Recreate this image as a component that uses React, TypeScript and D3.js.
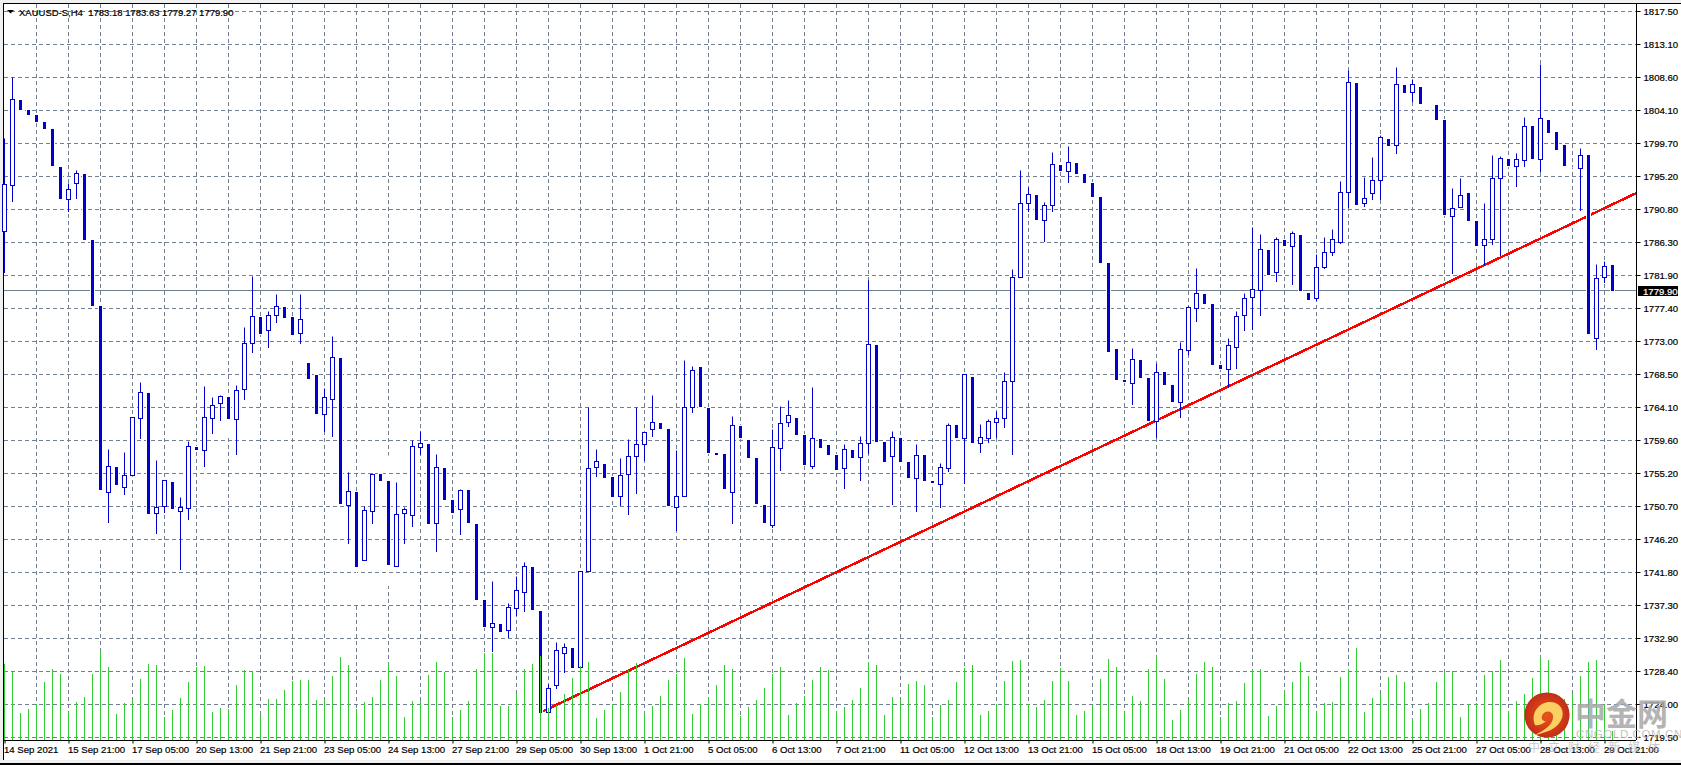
import { useEffect, useRef } from "react";
import { select, scaleLinear, axisBottom, axisRight, line } from "d3";

const WIDTH = 1681;
const HEIGHT = 765;

// XAUUSD H4 candles
const opens = [
  1787.85,1794.06,1805.53,1804.18,1803.51,1802.56,1801.62,1796.49,1792.17,1794.33,
  1795.54,1786.63,1777.72,1752.61,1755.99,1753.28,1754.90,1762.60,1765.98,1749.78,
  1750.72,1753.96,1750.05,1750.45,1758.69,1758.28,1762.60,1764.63,1765.44,1762.47,
  1766.52,1772.73,1776.24,1774.48,1776.51,1777.59,1776.24,1774.08,1770.03,1768.41,
  1763.14,1765.17,1770.70,1750.86,1752.61,1743.43,1750.05,1755.04,1754.10,1742.62,
  1749.78,1749.51,1758.69,1759.09,1748.43,1755.85,1751.53,1750.32,1752.88,1748.29,
  1738.03,1734.39,1734.79,1733.98,1736.95,1739.11,1742.49,1736.55,1722.91,1726.56,
  1730.88,1731.55,1728.99,1741.95,1755.99,1756.39,1754.63,1752.07,1755.04,1757.47,
  1759.09,1761.12,1761.93,1761.12,1750.59,1752.07,1764.09,1769.49,1763.95,1757.88,
  1757.74,1752.61,1761.52,1759.63,1757.20,1750.86,1748.16,1758.55,1762.06,1762.60,
  1760.31,1756.12,1759.77,1758.96,1757.61,1755.85,1758.28,1757.34,1759.23,1772.46,
  1759.36,1757.47,1759.90,1756.66,1754.50,1757.61,1754.10,1753.69,1755.85,1761.66,
  1759.90,1768.14,1759.23,1759.90,1762.06,1762.60,1767.60,1781.64,1791.63,1792.71,
  1789.33,1791.36,1796.76,1795.95,1797.03,1795.54,1794.33,1792.44,1783.53,1771.92,
  1767.73,1767.33,1770.43,1768.00,1762.20,1768.81,1767.06,1764.76,1771.78,1777.45,
  1779.34,1777.99,1769.76,1769.22,1772.19,1776.51,1778.94,1779.88,1785.28,1782.31,
  1786.63,1785.82,1787.31,1779.48,1778.80,1782.99,1785.01,1786.36,1793.11,1807.83,
  1791.63,1792.98,1794.73,1800.27,1799.46,1807.56,1806.61,1807.29,1804.99,1804.86,
  1802.83,1789.87,1791.09,1792.98,1789.20,1785.96,1786.77,1795.00,1797.57,1796.62,
  1797.43,1802.02,1797.57,1802.83,1801.21,1799.46,1796.49,1796.35,1798.11,1773.40,
  1781.64,1783.18,
];
const closes = [
  1794.19,1805.67,1804.32,1803.64,1802.70,1801.75,1796.76,1792.30,1793.52,1795.67,
  1786.77,1777.86,1753.02,1756.12,1753.69,1754.90,1762.74,1766.11,1749.78,1750.59,
  1754.23,1750.45,1750.59,1758.82,1758.42,1762.74,1764.36,1765.57,1762.60,1766.38,
  1772.73,1776.37,1774.08,1776.51,1777.72,1776.24,1773.94,1775.97,1768.00,1763.28,
  1765.44,1770.84,1751.13,1752.75,1742.62,1750.18,1755.04,1754.23,1742.89,1749.64,
  1750.32,1758.82,1759.23,1748.43,1755.99,1751.67,1749.91,1752.88,1748.56,1738.17,
  1734.52,1734.93,1733.85,1737.09,1739.38,1742.62,1736.82,1722.91,1726.15,1731.28,
  1731.69,1728.99,1741.95,1755.85,1756.80,1754.63,1752.07,1754.90,1757.47,1759.09,
  1760.71,1762.06,1761.25,1750.86,1752.07,1764.09,1769.08,1764.22,1758.01,1757.74,
  1753.15,1761.66,1760.04,1757.34,1751.13,1748.56,1758.69,1761.93,1763.01,1760.44,
  1756.39,1759.90,1758.69,1757.74,1755.72,1758.42,1757.34,1759.23,1772.59,1759.50,
  1756.80,1760.04,1756.80,1754.63,1757.61,1754.23,1753.96,1755.99,1761.66,1760.04,
  1768.54,1759.36,1760.04,1762.20,1762.60,1767.60,1781.64,1791.63,1792.84,1789.47,
  1791.36,1796.89,1796.08,1797.16,1795.68,1794.46,1792.57,1783.66,1771.65,1767.87,
  1767.60,1770.57,1768.14,1762.33,1768.81,1767.19,1764.90,1771.92,1777.59,1779.48,
  1778.13,1769.89,1769.35,1772.46,1776.37,1778.80,1780.02,1785.42,1782.04,1786.77,
  1785.96,1787.58,1779.88,1778.67,1782.99,1785.01,1786.77,1793.11,1807.96,1791.49,
  1792.30,1794.73,1800.54,1799.46,1807.69,1806.61,1807.69,1805.13,1804.99,1802.97,
  1790.14,1790.95,1792.71,1789.33,1785.96,1786.77,1795.00,1797.70,1796.76,1797.57,
  1802.02,1797.70,1803.10,1801.21,1798.92,1796.76,1796.49,1798.11,1774.08,1781.50,
  1783.12,1779.90,
];
const highs = [
  1800.40,1808.64,1805.53,1804.18,1803.51,1802.56,1801.62,1796.49,1794.33,1796.08,
  1795.54,1786.63,1777.72,1758.42,1755.99,1758.01,1762.74,1767.46,1765.98,1756.93,
  1754.23,1753.96,1751.94,1759.50,1758.69,1766.92,1765.44,1765.71,1765.44,1767.06,
  1774.89,1781.77,1776.24,1777.05,1779.34,1777.59,1776.24,1779.34,1770.03,1768.41,
  1766.65,1773.67,1770.70,1755.31,1752.61,1750.72,1755.18,1755.04,1757.61,1753.96,
  1750.59,1759.63,1760.85,1759.09,1757.74,1755.85,1751.53,1753.02,1752.88,1748.29,
  1738.03,1740.60,1734.79,1737.63,1741.27,1743.16,1742.49,1736.55,1726.69,1732.36,
  1732.23,1731.55,1741.95,1764.09,1758.42,1756.39,1754.63,1757.20,1759.77,1764.09,
  1760.71,1765.71,1761.93,1761.12,1758.28,1770.43,1769.62,1769.49,1763.95,1757.88,
  1757.74,1762.87,1761.52,1759.63,1757.20,1750.86,1761.12,1764.22,1765.03,1762.60,
  1760.31,1766.78,1759.77,1758.96,1757.61,1759.09,1758.28,1760.17,1781.23,1772.46,
  1759.36,1760.85,1759.90,1756.66,1759.09,1757.61,1754.10,1756.53,1761.93,1761.66,
  1768.54,1768.14,1761.79,1762.47,1763.55,1768.81,1782.72,1796.08,1793.79,1792.71,
  1791.76,1798.51,1796.76,1799.32,1797.03,1795.54,1794.33,1792.44,1783.53,1771.92,
  1767.73,1772.05,1770.43,1768.00,1770.03,1768.81,1767.06,1772.86,1777.72,1782.85,
  1779.34,1777.99,1769.76,1773.40,1777.05,1779.48,1788.39,1787.44,1785.28,1787.04,
  1786.63,1787.85,1787.31,1779.48,1784.74,1787.04,1788.12,1794.60,1809.58,1807.83,
  1795.14,1797.84,1800.81,1800.27,1809.99,1807.56,1808.36,1807.29,1804.99,1804.86,
  1802.83,1793.65,1795.00,1792.98,1789.20,1791.63,1798.10,1797.97,1797.57,1798.38,
  1803.24,1802.02,1810.39,1802.83,1801.21,1799.46,1796.49,1799.05,1798.11,1783.39,
  1783.80,1783.63,
];
const lows = [
  1782.31,1791.90,1804.32,1803.64,1802.70,1801.75,1796.76,1792.30,1790.55,1792.30,
  1786.77,1777.86,1745.05,1748.56,1753.69,1752.34,1754.90,1759.90,1749.78,1747.08,
  1749.91,1750.45,1742.22,1748.97,1758.42,1756.12,1760.58,1762.33,1760.31,1757.74,
  1765.17,1771.51,1774.08,1772.19,1775.56,1776.24,1770.84,1772.73,1768.00,1763.28,
  1760.85,1760.17,1751.13,1745.73,1737.63,1743.43,1748.43,1754.23,1740.06,1742.62,
  1745.73,1748.02,1757.74,1748.43,1744.65,1751.67,1749.91,1746.94,1748.56,1738.17,
  1734.52,1731.15,1733.85,1733.04,1736.01,1736.55,1736.82,1722.91,1722.91,1726.15,
  1728.31,1728.99,1728.99,1741.95,1754.77,1754.63,1752.07,1750.86,1749.64,1752.48,
  1756.93,1760.17,1761.25,1750.86,1747.48,1752.07,1763.41,1764.22,1758.01,1757.74,
  1753.15,1748.43,1760.04,1757.34,1751.13,1748.56,1747.89,1755.58,1761.52,1760.44,
  1756.39,1755.85,1758.69,1757.74,1755.72,1753.15,1757.34,1754.23,1757.88,1759.50,
  1756.80,1750.99,1756.80,1754.63,1750.05,1754.23,1753.96,1750.59,1755.45,1760.04,
  1753.83,1759.36,1758.01,1759.36,1760.04,1761.39,1757.74,1781.64,1790.55,1789.47,
  1786.50,1790.55,1796.08,1794.46,1795.68,1794.46,1792.57,1783.66,1771.65,1767.87,
  1767.60,1764.49,1768.14,1762.33,1760.04,1767.19,1764.90,1762.74,1771.24,1775.70,
  1778.13,1769.89,1769.35,1766.79,1769.35,1774.48,1774.62,1776.51,1782.04,1781.10,
  1785.96,1780.69,1779.88,1778.67,1778.53,1782.85,1784.61,1786.23,1791.09,1791.49,
  1791.22,1792.17,1792.17,1799.46,1798.38,1806.61,1805.40,1805.13,1804.99,1802.97,
  1790.14,1782.18,1791.09,1789.33,1785.96,1783.26,1786.09,1784.61,1796.76,1793.92,
  1796.62,1797.70,1795.95,1801.21,1798.92,1796.76,1796.49,1790.68,1774.08,1771.92,
  1780.96,1779.27,
];
// tick volume in the overlay, arbitrary units
const volumes = [
  76,68,27,31,36,58,71,66,28,38,43,66,88,73,26,37,41,61,76,75,
  23,30,42,58,73,74,28,32,31,55,70,69,25,41,41,50,59,60,60,40,
  41,64,83,75,31,38,43,60,77,64,23,39,39,65,78,68,23,30,39,71,
  87,87,34,34,46,71,76,84,32,35,46,62,74,78,22,30,36,48,70,77,
  27,34,44,60,66,82,26,36,42,55,75,71,24,33,40,52,66,73,25,37,
  44,60,73,70,28,33,40,52,78,75,25,43,41,56,59,55,23,35,40,58,
  72,75,25,29,36,59,79,80,36,33,40,59,72,59,25,29,35,61,81,73,
  28,44,39,71,83,61,20,30,40,66,78,73,23,37,39,57,70,71,24,34,
  49,58,78,64,28,37,38,63,71,92,28,42,46,63,65,58,21,31,37,58,
  67,69,23,36,37,65,69,80,29,39,46,62,83,80,30,41,46,64,78,80,
  35,9,
];

const priceTicks = [
  1817.5,1813.1,1808.6,1804.1,1799.7,1795.2,1790.8,1786.3,1781.9,1777.4,1773.0,1768.5,
  1764.1,1759.6,1755.2,1750.7,1746.2,1741.8,1737.3,1732.9,1728.4,1724.0,1719.5,
];
const dateLabels = [
  "14 Sep 2021","15 Sep 21:00","17 Sep 05:00","20 Sep 13:00","21 Sep 21:00","23 Sep 05:00",
  "24 Sep 13:00","27 Sep 21:00","29 Sep 05:00","30 Sep 13:00","1 Oct 21:00","5 Oct 05:00",
  "6 Oct 13:00","7 Oct 21:00","11 Oct 05:00","12 Oct 13:00","13 Oct 21:00","15 Oct 05:00",
  "18 Oct 13:00","19 Oct 21:00","21 Oct 05:00","22 Oct 13:00","25 Oct 21:00","27 Oct 05:00",
  "28 Oct 13:00","29 Oct 21:00",
];
const lastPrice = 1779.9;
const trendBars = [67.3, 204];
const trendPrices = [1723.04, 1793.0];

const FONT = "'Liberation Sans', Arial, sans-serif";
const GRID = "#708090";
const BLUE = "#0000CD";

export default function App() {
  const ref = useRef<SVGSVGElement | null>(null);

  useEffect(() => {
    const svg = select(ref.current);
    svg.selectAll("*").remove();

    const x = scaleLinear().domain([0, 201]).range([4.5, 1612.5]);
    const y = scaleLinear().domain([1719.5, 1817.5]).range([737.5, 11.5]);
    const vol = scaleLinear().domain([0, 100]).range([740, 640]);
    const py = (v: number) => Math.floor(y(v)) + 0.5;
    const bars = opens.map((_, i) => i);

    // window frame
    svg.append("rect").attr("width", WIDTH).attr("height", HEIGHT).attr("fill", "#fff");
    svg.append("rect").attr("width", WIDTH).attr("height", 3).attr("fill", "#f0f0f0");
    svg.append("rect").attr("width", 3).attr("height", HEIGHT).attr("fill", "#f0f0f0");
    svg.append("rect").attr("y", 760).attr("width", WIDTH).attr("height", 3).attr("fill", "#f0f0f0");
    svg.append("rect").attr("y", 763).attr("width", WIDTH).attr("height", 2).attr("fill", "#000");
    svg.append("rect").attr("x", 3).attr("y", 3).attr("width", WIDTH - 3).attr("height", 1).attr("fill", "#000");
    svg.append("rect").attr("x", 3).attr("y", 3).attr("width", 1).attr("height", 757).attr("fill", "#000");

    // grid
    const gridX = bars.filter((i) => i > 0 && i % 4 === 0);
    svg.append("g").selectAll("line").data(gridX).join("line")
      .attr("x1", (d) => x(d)).attr("x2", (d) => x(d))
      .attr("y1", 4).attr("y2", 740)
      .attr("stroke", GRID).attr("stroke-dasharray", "4 3");
    svg.append("g").selectAll("line").data(priceTicks).join("line")
      .attr("x1", 4).attr("x2", 1636)
      .attr("y1", (d) => py(d)).attr("y2", (d) => py(d))
      .attr("stroke", GRID).attr("stroke-dasharray", "4 3");

    // last price line
    svg.append("line")
      .attr("x1", 4).attr("x2", 1636).attr("y1", py(lastPrice)).attr("y2", py(lastPrice))
      .attr("stroke", GRID);

    // trend line
    const trend = line<number>().x((d) => x(d)).y((_, i) => y(trendPrices[i]));
    svg.append("path").attr("d", trend(trendBars)).attr("fill", "none")
      .attr("stroke", "#ff0000").attr("stroke-width", 2.5).attr("shape-rendering", "crispEdges");

    // candles: bear wicks are white on this chart template
    const up = (i: number) => closes[i] > opens[i];
    const down = (i: number) => closes[i] < opens[i];
    svg.append("g").selectAll("line").data(bars).join("line")
      .attr("x1", (i) => x(i)).attr("x2", (i) => x(i))
      .attr("y1", (i) => py(highs[i])).attr("y2", (i) => py(lows[i]) + 0.5)
      .attr("stroke", (i) => (up(i) ? BLUE : "#fff"));
    svg.append("g").selectAll("rect").data(bars.filter(up)).join("rect")
      .attr("x", (i) => x(i) - 2)
      .attr("y", (i) => py(closes[i]))
      .attr("width", 4)
      .attr("height", (i) => py(opens[i]) - py(closes[i]))
      .attr("fill", "#fff").attr("stroke", BLUE);
    const bearRects = bars.filter(down);
    svg.append("g").selectAll("rect").data(bearRects).join("rect")
      .attr("x", (i) => x(i) - 2.5)
      .attr("y", (i) => py(opens[i]) - 1.5)
      .attr("width", 5)
      .attr("height", (i) => py(closes[i]) - py(opens[i]) + 3)
      .attr("fill", "#fff");
    svg.append("g").selectAll("rect").data(bearRects).join("rect")
      .attr("x", (i) => x(i) - 1.5)
      .attr("y", (i) => py(opens[i]) - 0.5)
      .attr("width", 3)
      .attr("height", (i) => py(closes[i]) - py(opens[i]) + 1)
      .attr("fill", BLUE);

    // volumes
    svg.append("g").selectAll("line").data(bars).join("line")
      .attr("x1", (i) => x(i)).attr("x2", (i) => x(i))
      .attr("y1", 740).attr("y2", (i) => vol(volumes[i]))
      .attr("stroke", "#32CD32");

    // axes
    const bottom = axisBottom(x)
      .tickValues(dateLabels.map((_, i) => i * 8))
      .tickFormat((_, i) => dateLabels[i])
      .tickSize(3)
      .tickPadding(3);
    svg.append("g")
      .attr("transform", "translate(0,740.5)")
      .call(bottom as any)
      .call((g) => g.selectAll(".domain").attr("d", "M4,0H1636").attr("stroke", "#000"))
      .call((g) => g.selectAll("text").attr("text-anchor", "start").attr("x", -1).attr("fill", "#000"));

    const right = axisRight(y)
      .tickValues(priceTicks)
      .tickFormat((d) => (d as number).toFixed(2))
      .tickSize(4)
      .tickPadding(3);
    svg.append("g")
      .attr("transform", "translate(1636.5,0)")
      .call(right as any)
      .call((g) => g.selectAll(".domain").attr("d", "M0,3V740").attr("stroke", "#000"))
      .call((g) => g.selectAll(".tick").attr("transform", (d: any) => `translate(0,${py(d)})`))
      .call((g) => g.selectAll("text").attr("fill", "#000"));
    svg.selectAll(".tick text")
      .attr("font-family", FONT).attr("font-size", 9.6)
      .attr("stroke", "#000").attr("stroke-width", 0.2);

    // last price label
    svg.append("rect").attr("x", 1638).attr("y", 286).attr("width", 40).attr("height", 10).attr("fill", "#000");
    svg.append("text").attr("x", 1643).attr("y", 294.5).attr("fill", "#fff")
      .attr("font-family", FONT).attr("font-size", 9.6)
      .attr("stroke", "#fff").attr("stroke-width", 0.2)
      .text(lastPrice.toFixed(2));

    // title
    svg.append("path").attr("d", "M7,10H14L10.5,13.5Z").attr("fill", "#000");
    svg.append("text").attr("x", 19).attr("y", 15.5).attr("fill", "#000")
      .attr("font-family", FONT).attr("font-size", 9.5)
      .attr("stroke", "#000").attr("stroke-width", 0.2)
      .attr("xml:space", "preserve")
      .text(`XAUUSD-S,H4  ${opens[201].toFixed(2)} ${highs[201].toFixed(2)} ${lows[201].toFixed(2)} ${closes[201].toFixed(2)}`);

    // watermark
    const defs = svg.append("defs");
    const grad = defs.append("radialGradient").attr("id", "logoGrad");
    grad.append("stop").attr("offset", "0%").attr("stop-color", "#e8551c");
    grad.append("stop").attr("offset", "100%").attr("stop-color", "#c42d17");
    svg.append("circle").attr("cx", 1547).attr("cy", 715).attr("r", 22.6).attr("fill", "url(#logoGrad)");
    svg.append("path")
      .attr("d", "M1535,725C1530,712 1540,702 1550,702C1562,702 1566,714 1560,722C1556,729 1545,733 1535,735C1545,730 1552,725 1553,718C1554,712 1547,709 1543,714C1540,718 1543,722 1546,721C1542,725 1537,726 1535,725Z")
      .attr("fill", "#fbcf62");
    svg.append("text").attr("x", 1575).attr("y", 725).attr("fill", "#a8a8a8")
      .attr("font-family", "'Noto Sans CJK SC'").attr("font-weight", 700).attr("font-size", 31).attr("opacity", 0.85)
      .text("中金网");
    svg.append("text").attr("x", 1576).attr("y", 738).attr("fill", "#b5b5b5")
      .attr("font-family", FONT).attr("font-size", 11.5).attr("letter-spacing", 0.6).attr("opacity", 0.8)
      .text("CNGOLD.COM.CN");
    svg.append("text").attr("x", 1528).attr("y", 752).attr("fill", "#b5b5b5")
      .attr("font-family", "'Noto Sans CJK SC'").attr("font-size", 12).attr("letter-spacing", 8).attr("opacity", 0.7)
      .text("中立财经新媒体");
  }, []);

  return (
    <svg
      ref={ref}
      width={WIDTH}
      height={HEIGHT}
      viewBox={`0 0 ${WIDTH} ${HEIGHT}`}
      style={{ position: "absolute", left: 0, top: 0 }}
    />
  );
}
